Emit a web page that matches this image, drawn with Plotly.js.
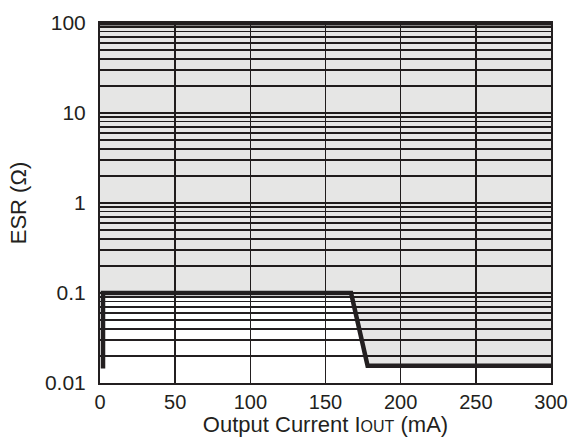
<!DOCTYPE html>
<html>
<head>
<meta charset="utf-8">
<script src="https://cdn.plot.ly/plotly-3.0.1.min.js"></script>
<style>html,body{margin:0;padding:0;background:#fff;}#chart{width:572px;height:437px;}</style>
</head>
<body>
<div id="chart"></div>
<script>
// Stability boundary (lower ESR limit vs output current)
const boundaryCurrent = [2, 2, 167, 178, 300];
const boundaryESR = [0.0145, 0.1, 0.1, 0.0155, 0.0155];
// Upper ESR limit
const upperCurrent = [0, 300];
const upperESR = [100, 100];
// Axis ticks
const xTicks = [0, 50, 100, 150, 200, 250, 300];
const yDecades = [0.01, 0.1, 1, 10, 100];
const yDecadeLabels = ['0.01', '0.1', '1', '10', '100'];

// build grid values (1..9 per decade)
const yTickVals = [];
const yTickText = [];
for (let d = 0; d < yDecades.length; d++) {
  const base = yDecades[d];
  const maxM = d === yDecades.length - 1 ? 1 : 9;
  for (let m = 1; m <= maxM; m++) {
    yTickVals.push(+(base * m).toPrecision(3));
    yTickText.push(m === 1 ? yDecadeLabels[d] : '');
  }
}

// stable region polygon: above boundary up to upper limit
const regionX = [upperCurrent[0]].concat(boundaryCurrent.slice(1), [upperCurrent[1], upperCurrent[0]]);
const regionY = [boundaryESR[1]].concat(boundaryESR.slice(1), [upperESR[1], upperESR[0]]);

const ink = '#231f20';
const traces = [
  {x: regionX, y: regionY, type: 'scatter', mode: 'lines', fill: 'toself',
   fillcolor: 'rgba(10,5,0,0.1)', line: {width: 0}, hoverinfo: 'skip'},
  {x: boundaryCurrent, y: boundaryESR, type: 'scatter', mode: 'lines',
   line: {color: ink, width: 4.5}, cliponaxis: false},
  {x: upperCurrent, y: upperESR, type: 'scatter', mode: 'lines',
   line: {color: ink, width: 5}, cliponaxis: false}
];

const font = {family: 'Liberation Sans, Arial, sans-serif', color: ink};
const layout = {
  width: 572, height: 437,
  margin: {l: 100, r: 21, t: 23, b: 54},
  paper_bgcolor: '#fff', plot_bgcolor: '#fff',
  showlegend: false,
  font: Object.assign({size: 21}, font),
  xaxis: {
    range: [0, 300], tickvals: xTicks, ticktext: xTicks.map(String),
    showgrid: true, gridcolor: ink, gridwidth: 1.4,
    showline: true, mirror: true, linecolor: ink, linewidth: 2,
    ticks: '',
    zeroline: false,
    tickfont: Object.assign({size: 20}, font),
    title: {text: 'Output Current I<span style="font-size:16px">OUT</span> (mA)',
            font: Object.assign({size: 22}, font), standoff: 4}
  },
  yaxis: {
    type: 'log', range: [-2, 2],
    tickvals: yTickVals, ticktext: yTickText,
    showgrid: true, gridcolor: ink, gridwidth: 1.4,
    showline: true, mirror: true, linecolor: ink, linewidth: 2,
    ticks: 'outside', ticklen: 8, tickcolor: 'rgba(0,0,0,0)',
    zeroline: false,
    tickfont: Object.assign({size: 21}, font),
    title: {text: 'ESR (Ω)', font: Object.assign({size: 22}, font), standoff: 12}
  }
};

Plotly.newPlot('chart', traces, layout, {displayModeBar: false, staticPlot: true});
</script>
</body>
</html>
